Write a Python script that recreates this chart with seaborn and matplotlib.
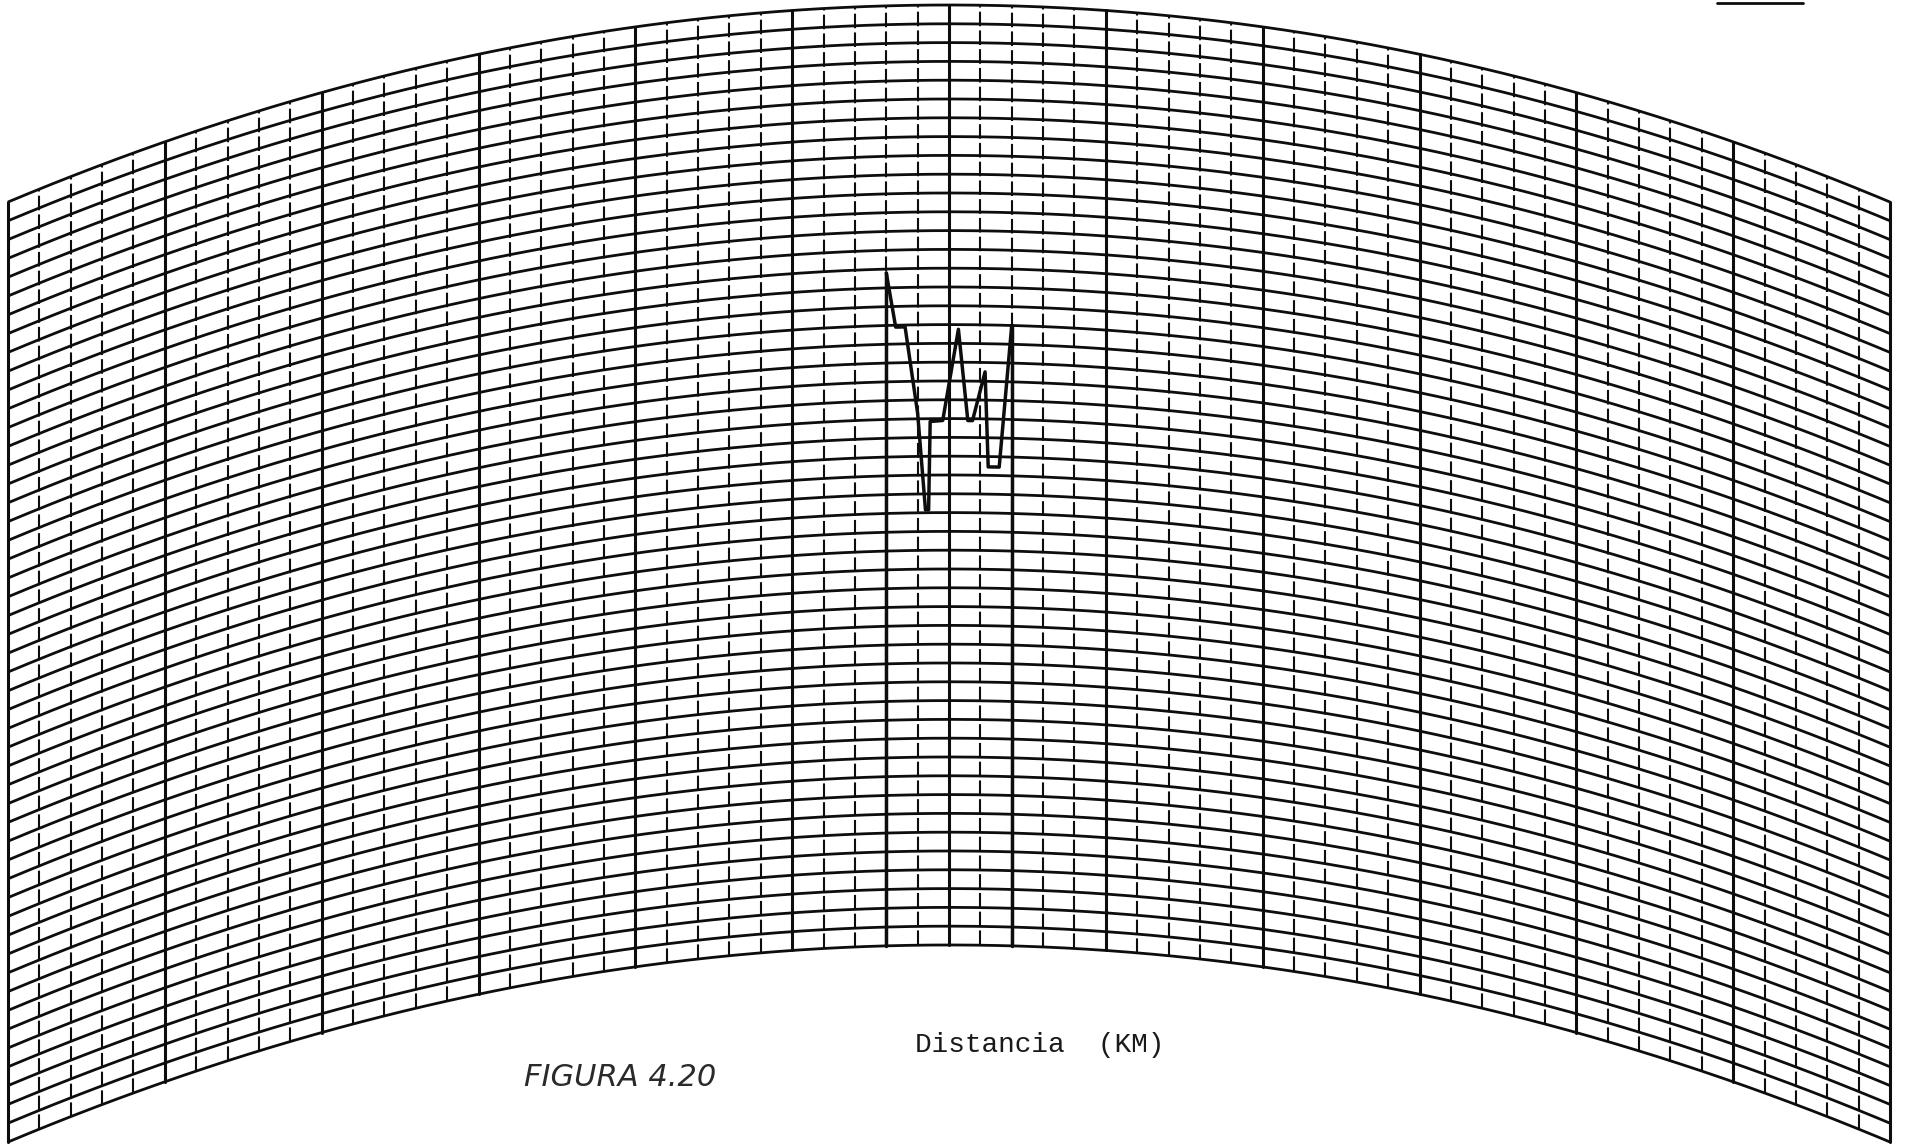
import numpy as np
import pandas as pd
import seaborn as sns
import matplotlib.pyplot as plt

# --- Chart data (grid units: 1 column = 1 distance step, 1 row = 1 height step) ---
n_cols = 60          # vertical lines 0..60 across the curved-earth sheet
n_rows = 50          # curved height lines 0..50
earth_bulge = 10.48  # rise of the centre of each curve above its ends (rows)

# Profile trace
distance = [28.0, 28.3, 28.6, 29.0, 29.25, 29.35, 29.4, 29.8,
            30.3, 30.6, 30.75, 31.15, 31.25, 31.6, 32.0]
elevation = [35.8, 32.9, 32.9, 28.3, 23.15, 23.15, 27.85, 27.9,
             32.75, 27.9, 27.9, 30.5, 25.45, 25.45, 33.0]

x_label = 'Distancia  (KM)'
fig_label = 'FIGURA 4.20'


# Helper function: height added by earth curvature at a given distance
def bulge(x):
    half = n_cols / 2
    return earth_bulge * (1 - ((np.asarray(x) - half) / half) ** 2)


df = pd.DataFrame({'dist': distance, 'elev': elevation})
df['y_plot'] = df['elev'] + bulge(df['dist'])

# --- Plotting ---
sns.set_style('white')
plt.rcParams['font.family'] = ['DejaVu Sans']

W, H = 1916, 1147
fig = plt.figure(figsize=(W / 100, H / 100), dpi=100)
ax = fig.add_axes([8 / W, 5 / H, 1882 / W, 1137 / H])
ax.set_xlim(0, n_cols)
ax.set_ylim(0, n_rows + earth_bulge)
ax.axis('off')

ink = '#0d0d0d'

# curved height lines
xs = np.linspace(0, n_cols, 600)
for r in range(n_rows + 1):
    ax.plot(xs, r + bulge(xs), color=ink, lw=2.0, clip_on=False,
            solid_capstyle='butt')

# vertical distance lines (every 5th solid and heavier, others broken)
for c in range(n_cols + 1):
    y0 = float(bulge(c))
    if c % 5 == 0:
        ax.plot([c, c], [y0, y0 + n_rows], color=ink, lw=2.2, clip_on=False)
    else:
        ax.plot([c, c], [y0, y0 + n_rows], color=ink, lw=1.5,
                linestyle=(0, (7, 2)), clip_on=False)

# profile end verticals down to the base curve
for d, yp in [(df['dist'].iloc[0], df['y_plot'].iloc[0]),
              (df['dist'].iloc[-1], df['y_plot'].iloc[-1])]:
    ax.plot([d, d], [float(bulge(d)), yp], color=ink, lw=2.5)

# profile trace
sns.lineplot(data=df, x='dist', y='y_plot', sort=False, estimator=None,
             color=ink, linewidth=2.5, ax=ax, legend=False)
ax.set_xlabel('')
ax.set_ylabel('')

# --- Texts ---
fig.text(1040 / W, 1 - 1045 / H, x_label, family='Liberation Mono',
         fontsize=20, color='#1a1a1a', ha='center', va='center')
fig.text(620 / W, 1 - 1077 / H, fig_label, family='DejaVu Sans',
         style='italic', fontsize=22, color='#2a2a2a', ha='center',
         va='center')

# cropped header underline, top right
fig.add_artist(plt.Line2D([1717 / W, 1803 / W], [1 - 3 / H, 1 - 3 / H],
                          color=ink, lw=2.0))

plt.savefig('out.png', dpi=100)
